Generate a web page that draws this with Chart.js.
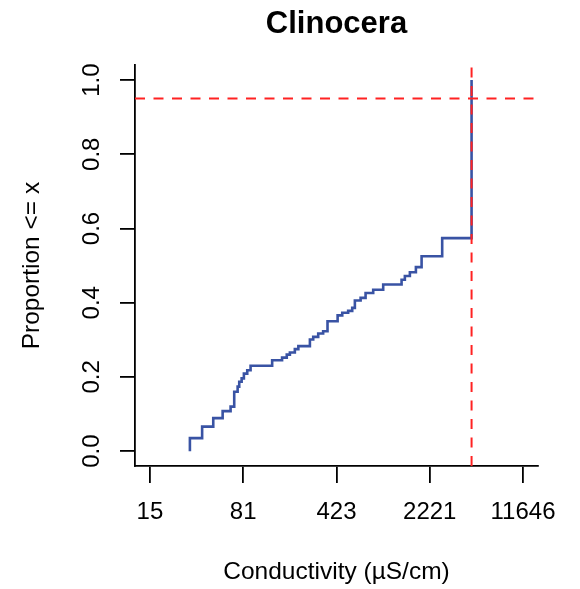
<!DOCTYPE html>
<html>
<head>
<meta charset="utf-8">
<script src="https://cdn.jsdelivr.net/npm/chart.js@4"></script>
<style>
  html, body { margin: 0; padding: 0; background: #fff; }
  canvas { display: block; }
</style>
</head>
<body>
<canvas id="chart" width="580" height="589"></canvas>
<script>
// ECDF steps: conductivity at each jump, proportion after it
const conductivity = [31.3, 38.9, 47.4, 56.0, 64.5, 68.8, 73.1, 75.2, 78.5, 81.7, 86.7, 92.0,
  135, 161, 175, 185, 202, 215, 264, 280, 306, 334, 361, 432, 469, 521, 560, 587, 650,
  710, 813, 971, 1346, 1427, 1560, 1736, 1921, 2770, 4669];
const proportion = [0.035, 0.066, 0.089, 0.108, 0.120, 0.160, 0.174, 0.187, 0.196, 0.209, 0.218, 0.230,
  0.245, 0.252, 0.260, 0.266, 0.275, 0.283, 0.301, 0.308, 0.317, 0.323, 0.350, 0.366, 0.373, 0.378, 0.386, 0.406, 0.413,
  0.426, 0.435, 0.449, 0.462, 0.472, 0.482, 0.496, 0.525, 0.574, 1.0];

// reference lines
const refProportion = 0.95;
const refConductivity = 4669;

// axes
const xTickValues = [15.39, 80.7, 423.3, 2220.5, 11646];
const xTickLabels = ["15", "81", "423", "2221", "11646"];
const yTickValues = [0, 0.2, 0.4, 0.6, 0.8, 1.0];
const xMin = 11.8, xMax = 15200;
const yMin = -0.04, yMax = 1.04;

const FONT = "'Liberation Sans', Arial, Helvetica, sans-serif";

const ecdfPoints = [{ x: conductivity[0], y: 0 }];
conductivity.forEach((c, i) => ecdfPoints.push({ x: c, y: proportion[i] }));

new Chart(document.getElementById("chart"), {
  type: "line",
  data: {
    datasets: [
      {
        data: ecdfPoints,
        stepped: "before",
        borderColor: "#3953a4",
        borderWidth: 2.6,
        pointRadius: 0,
        fill: false,
        order: 2,
      },
      {
        data: [{ x: xMin, y: refProportion }, { x: xMax, y: refProportion }],
        borderColor: "#ff2222",
        borderWidth: 2,
        borderDash: [10, 8.5],
        pointRadius: 0,
        order: 1,
      },
      {
        data: [{ x: refConductivity, y: yMin }, { x: refConductivity, y: yMax }],
        borderColor: "#ff2222",
        borderWidth: 2,
        borderDash: [10, 8.5],
        pointRadius: 0,
        order: 1,
      },
    ],
  },
  options: {
    responsive: false,
    animation: false,
    layout: { padding: { left: 0, right: 42, top: 0, bottom: 0 } },
    plugins: {
      legend: { display: false },
      tooltip: { enabled: false },
      title: {
        display: true,
        text: "Clinocera",
        fullSize: false,
        color: "#000",
        font: { family: FONT, size: 31, weight: "bold" },
        padding: { top: 6, bottom: 22 },
      },
    },
    scales: {
      x: {
        type: "logarithmic",
        min: xMin,
        max: xMax,
        afterBuildTicks: (axis) => {
          axis.ticks = xTickValues.map((v) => ({ value: v }));
        },
        afterFit: (axis) => { axis.height = 123; },
        ticks: {
          autoSkip: false,
          maxRotation: 0,
          color: "#000",
          padding: 15,
          font: { family: FONT, size: 24 },
          callback: (v, i) => xTickLabels[i],
        },
        grid: { drawOnChartArea: false, drawTicks: true, tickLength: 17, color: "#000", lineWidth: 1.8 },
        border: { display: true, color: "#000", width: 1.8 },
        title: {
          display: true,
          text: "Conductivity (\u00b5S/cm)",
          color: "#000",
          font: { family: FONT, size: 24.5 },
          padding: { top: 0, bottom: 2 },
        },
      },
      y: {
        type: "linear",
        min: yMin,
        max: yMax,
        afterBuildTicks: (axis) => {
          axis.ticks = yTickValues.map((v) => ({ value: v }));
        },
        afterFit: (axis) => { axis.width = 135; },
        ticks: {
          color: "#000",
          minRotation: 90,
          maxRotation: 90,
          crossAlign: "center",
          padding: 11,
          font: { family: FONT, size: 24 },
          callback: (v) => v.toFixed(1),
        },
        grid: { drawOnChartArea: false, drawTicks: true, tickLength: 15, color: "#000", lineWidth: 1.8 },
        border: { display: true, color: "#000", width: 1.8 },
        title: {
          display: true,
          text: "Proportion <= x",
          color: "#000",
          font: { family: FONT, size: 24.5 },
          padding: { top: 18, bottom: 0 },
        },
      },
    },
  },
});
</script>
</body>
</html>
